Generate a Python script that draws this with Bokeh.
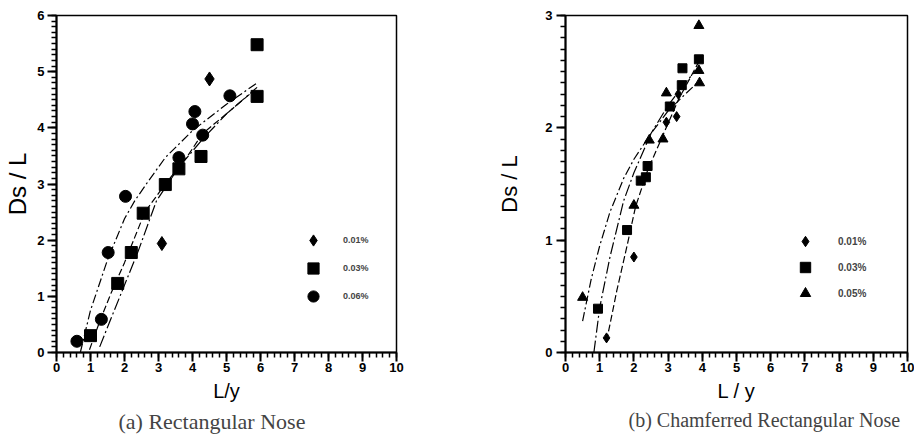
from bokeh.plotting import figure
from bokeh.models import Range1d, Legend, LegendItem, Title, SingleIntervalTicker
from bokeh.layouts import row
from bokeh.embed import file_html
from bokeh.resources import INLINE

# ---------------- Panel (a): Rectangular Nose ----------------
a_labels = ["0.01%", "0.03%", "0.06%"]
a_dia_x = [4.5, 3.1]
a_dia_y = [4.87, 1.94]
a_sq_x = [5.9, 5.9, 4.25, 3.6, 3.2, 2.55, 2.2, 1.8, 1.0]
a_sq_y = [5.48, 4.56, 3.49, 3.27, 2.99, 2.48, 1.78, 1.23, 0.3]
a_cir_x = [5.1, 4.07, 4.0, 4.3, 3.6, 2.03, 1.52, 1.32, 0.6]
a_cir_y = [4.57, 4.29, 4.07, 3.87, 3.47, 2.78, 1.78, 0.59, 0.2]

a_fitA_x = [0.7, 1.0, 1.5, 2.0, 2.3, 2.7, 3.2, 4.0, 5.0, 5.9]
a_fitA_y = [0.0, 0.75, 1.65, 2.38, 2.7, 3.05, 3.47, 3.95, 4.42, 4.8]
a_fitB_x = [0.97, 1.3, 1.6, 2.0, 2.3, 2.6, 3.2, 3.8, 4.3, 5.0, 5.8]
a_fitB_y = [0.05, 0.6, 1.05, 1.6, 2.05, 2.5, 3.0, 3.45, 3.9, 4.25, 4.66]
a_fitC_x = [1.27, 1.6, 2.0, 2.4, 2.94, 3.6, 4.3, 5.0, 5.9]
a_fitC_y = [0.1, 0.6, 1.2, 1.8, 2.7, 3.3, 3.8, 4.25, 4.72]

# ---------------- Panel (b): Chamferred Rectangular Nose ----------------
b_labels = ["0.01%", "0.03%", "0.05%"]
b_dia_x = [1.2, 2.0, 2.95, 3.25, 3.3]
b_dia_y = [0.13, 0.85, 2.05, 2.1, 2.3]
b_sq_x = [0.95, 1.8, 2.2, 2.35, 2.4, 3.05, 3.4, 3.42, 3.9]
b_sq_y = [0.39, 1.09, 1.53, 1.56, 1.66, 2.19, 2.38, 2.53, 2.61]
b_tri_x = [0.5, 2.0, 2.45, 2.85, 2.95, 3.9, 3.9, 3.92]
b_tri_y = [0.49, 1.31, 1.89, 1.9, 2.31, 2.91, 2.51, 2.4]

b_fitT_x = [0.5, 0.75, 1.0, 1.3, 1.7, 2.0, 2.5, 3.0, 3.5, 3.92]
b_fitT_y = [0.28, 0.65, 0.95, 1.25, 1.55, 1.72, 1.95, 2.15, 2.3, 2.42]
b_fitS_x = [0.83, 1.0, 1.3, 1.7, 2.0, 2.5, 3.0, 3.5, 3.92]
b_fitS_y = [0.0, 0.4, 0.85, 1.35, 1.6, 1.95, 2.2, 2.4, 2.55]
b_fitD_x = [1.2, 1.5, 1.8, 2.05, 2.4, 2.8, 3.3, 3.92]
b_fitD_y = [0.1, 0.55, 0.95, 1.3, 1.62, 1.9, 2.25, 2.6]

SANS = "Liberation Sans"
SERIF = "Liberation Serif"


def style_axes(p):
    p.xgrid.visible = False
    p.ygrid.visible = False
    p.xaxis.ticker = SingleIntervalTicker(interval=1, num_minor_ticks=5)
    p.yaxis.ticker = SingleIntervalTicker(interval=1, num_minor_ticks=10)
    for ax in (p.xaxis[0], p.yaxis[0]):
        ax.axis_line_width = 2
        ax.axis_line_color = "black"
        ax.major_tick_in = 0
        ax.major_tick_out = 9
        ax.minor_tick_in = 0
        ax.minor_tick_out = 5
        ax.major_tick_line_width = 2
        ax.minor_tick_line_width = 1.5
        ax.major_tick_line_color = "black"
        ax.minor_tick_line_color = "black"
        ax.major_tick_line_alpha = 1.0
        ax.minor_tick_line_alpha = 1.0
        ax.major_label_text_font = SANS
        ax.major_label_text_font_size = "13px"
        ax.major_label_text_font_style = "bold"
        ax.major_label_text_color = "black"
        ax.axis_label_text_font = SANS
        ax.axis_label_text_font_style = "normal"
        ax.axis_label_text_color = "black"
    p.outline_line_color = "black"
    p.outline_line_width = 1.5
    p.background_fill_color = None
    p.border_fill_color = None


# ---- figure (a) ----
pa = figure(width=460, height=445, output_backend="svg", toolbar_location=None,
            x_range=Range1d(0, 10), y_range=Range1d(0, 6),
            min_border_left=56, min_border_right=64, min_border_top=15, min_border_bottom=93)
pa.xaxis.axis_label = "L/y"
pa.yaxis.axis_label = "Ds / L"
pa.xaxis.axis_label_text_font_size = "20px"
pa.yaxis.axis_label_text_font_size = "24px"
pa.xaxis.major_label_standoff = 1
pa.yaxis.major_label_standoff = 3
pa.xaxis.axis_label_standoff = 5
pa.yaxis.axis_label_standoff = 3
style_axes(pa)

pa.line(a_fitA_x, a_fitA_y, line_color="black", line_width=1.2, line_dash="9 3 2 3")
pa.line(a_fitB_x, a_fitB_y, line_color="black", line_width=1.2, line_dash="7 3")
pa.line(a_fitC_x, a_fitC_y, line_color="black", line_width=1.2, line_dash="12 3 2 3")
ra1 = pa.scatter(a_dia_x, a_dia_y, marker="diamond", size=14, color="black")
ra2 = pa.scatter(a_sq_x, a_sq_y, marker="square", size=12, color="black")
ra3 = pa.scatter(a_cir_x, a_cir_y, marker="circle", size=12, color="black")

leg_a = Legend(items=[LegendItem(label=a_labels[0], renderers=[ra1]),
                      LegendItem(label=a_labels[1], renderers=[ra2]),
                      LegendItem(label=a_labels[2], renderers=[ra3])],
               location=(243, 42), glyph_width=28, glyph_height=28, spacing=-8,
               label_height=10, label_standoff=16, padding=0, margin=0,
               border_line_color=None, background_fill_alpha=0,
               label_text_font=SANS, label_text_font_size="9px", label_text_font_style="bold")
pa.add_layout(leg_a)
pa.add_layout(Title(text="(a) Rectangular Nose", align="left", offset=62, text_font=SERIF,
                    text_font_size="22px", text_font_style="normal", standoff=4), "below")

# ---- figure (b) ----
pb = figure(width=454, height=445, output_backend="svg", toolbar_location=None,
            x_range=Range1d(0, 10), y_range=Range1d(0, 3),
            min_border_left=105, min_border_right=7, min_border_top=15, min_border_bottom=93)
pb.xaxis.axis_label = "L / y"
pb.yaxis.axis_label = "Ds / L"
pb.xaxis.axis_label_text_font_size = "20px"
pb.yaxis.axis_label_text_font_size = "22px"
pb.xaxis.major_label_standoff = 1
pb.yaxis.major_label_standoff = 4
pb.xaxis.axis_label_standoff = 5
pb.yaxis.axis_label_standoff = 20
style_axes(pb)

pb.line(b_fitT_x, b_fitT_y, line_color="black", line_width=1.2, line_dash="9 3 2 3")
pb.line(b_fitS_x, b_fitS_y, line_color="black", line_width=1.2, line_dash="12 3 2 3")
pb.line(b_fitD_x, b_fitD_y, line_color="black", line_width=1.2, line_dash="7 3")
rb1 = pb.scatter(b_dia_x, b_dia_y, marker="diamond", size=10, color="black")
rb2 = pb.scatter(b_sq_x, b_sq_y, marker="square", size=9, color="black")
rb3 = pb.scatter(b_tri_x, b_tri_y, marker="triangle", size=10, color="black")

leg_b = Legend(items=[LegendItem(label=b_labels[0], renderers=[rb1]),
                      LegendItem(label=b_labels[1], renderers=[rb2]),
                      LegendItem(label=b_labels[2], renderers=[rb3])],
               location=(227, 46), glyph_width=26, glyph_height=26, spacing=-3,
               label_height=10, label_standoff=20, padding=0, margin=0,
               border_line_color=None, background_fill_alpha=0,
               label_text_font=SANS, label_text_font_size="10px", label_text_font_style="bold")
pb.add_layout(leg_b)
pb.add_layout(Title(text="(b) Chamferred Rectangular Nose", align="left", offset=63,
                    text_font=SERIF, text_font_size="20px", text_font_style="normal",
                    standoff=4), "below")

layout = row(pa, pb, spacing=0)
open("out.html", "w").write(file_html(layout, INLINE))
